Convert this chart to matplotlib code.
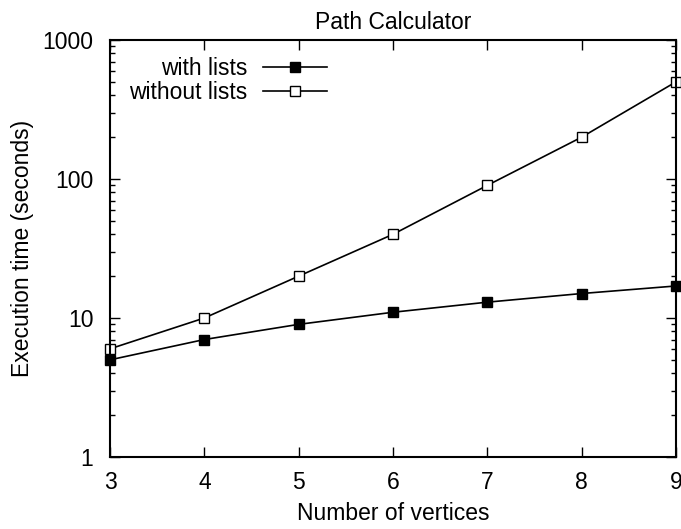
import matplotlib
matplotlib.use("Agg")
import matplotlib.pyplot as plt
from matplotlib.ticker import LogLocator, FixedLocator, NullFormatter

plt.rcParams['font.family'] = ['Liberation Sans', 'DejaVu Sans']

vertices = [3, 4, 5, 6, 7, 8, 9]
with_lists = [5, 7, 9, 11, 13, 15, 17]
without_lists = [6, 10, 20, 40, 90, 200, 500]

FS = 16.5
fig = plt.figure(figsize=(6.81, 5.29), dpi=100)
ax = fig.add_axes([0.1615, 0.1361, 0.8312, 0.7883])

ax.plot(vertices, with_lists, color='black', lw=1.2, marker='s', ms=7.5,
        mfc='black', mec='black', label='with lists', clip_on=False)
ax.plot(vertices, without_lists, color='black', lw=1.2, marker='s', ms=7.5,
        mfc='white', mec='black', mew=1.0, label='without lists', clip_on=False)

ax.set_yscale('log')
ax.set_xlim(3, 9)
ax.set_ylim(1, 1000)
ax.xaxis.set_major_locator(FixedLocator(vertices))
ax.yaxis.set_major_locator(FixedLocator([1, 10, 100, 1000]))
ax.set_yticklabels(['1', '10', '100', '1000'])
ax.yaxis.set_minor_locator(LogLocator(base=10, subs=range(2, 10)))
ax.yaxis.set_minor_formatter(NullFormatter())

ax.tick_params(which='both', direction='in', top=True, right=True,
               labelsize=FS, width=1.0)
ax.tick_params(axis='x', which='both', pad=10)
ax.tick_params(axis='y', which='both', pad=12)
ax.tick_params(which='major', length=7)
ax.tick_params(which='minor', length=3.5)
for s in ax.spines.values():
    s.set_linewidth(1.5)

ax.set_xlabel('Number of vertices', fontsize=FS, labelpad=6)
ax.set_ylabel('Execution time (seconds)', fontsize=FS, labelpad=6)
ax.set_title('Path Calculator', fontsize=FS, pad=8)

leg = ax.legend(loc='upper right', bbox_to_anchor=(0.383, 0.96), frameon=False,
                markerfirst=False, fontsize=FS, handlelength=2.8,
                handletextpad=0.65, labelspacing=0.05, borderaxespad=0.0,
                borderpad=0.0)
for t in leg.get_texts():
    t.set_ha('right')
leg._legend_box.align = 'right'

fig.savefig('out.png', dpi=100)
